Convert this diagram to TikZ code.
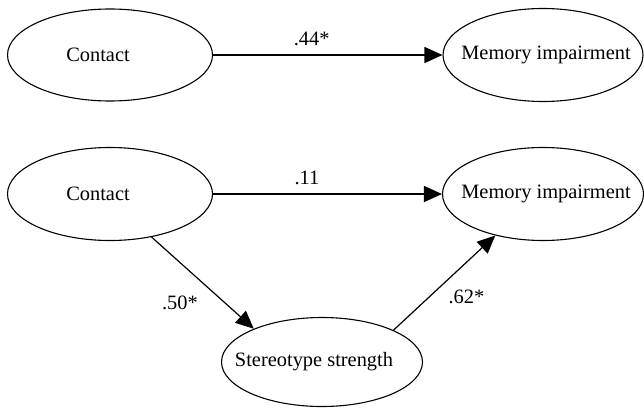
\documentclass[tikz,border=0pt]{standalone}
\usepackage{fontspec}
\setmainfont{Liberation Serif}
\usetikzlibrary{arrows.meta,shapes.geometric}
% zero-width label (optionally shifted sideways) so that the ellipse size
% is set by minimum width/height only
\newcommand\tightlabel[2][0pt]{\makebox[0pt]{\hspace*{#1}#2\hspace*{-#1}}}
\begin{document}
\begin{tikzpicture}[x=1pt,y=-1pt,
  var/.style={draw,line width=1.1pt,ellipse,inner sep=0pt,
    font=\fontsize{20.4}{24}\selectfont},
  path/.style={line width=1.2pt,-{Triangle[length=18pt,width=16pt]}},
  coef/.style={font=\fontsize{20.4}{24}\selectfont}]
\useasboundingbox (0,0) rectangle (644,409);
% total effect of contact
\node[var,minimum width=205pt,minimum height=92pt] (c1) at (110,55) {\tightlabel[-12pt]{Contact}};
\node[var,minimum width=200pt,minimum height=93pt] (m1) at (543,55) {\tightlabel[3pt]{Memory impairment}};
\draw[path] (c1) -- (m1) node[coef,pos=0.43,above=5pt] {.44*};
% mediation through stereotype strength
\node[var,minimum width=205pt,minimum height=93pt] (c2) at (110,194) {\tightlabel[-12pt]{Contact}};
\node[var,minimum width=201pt,minimum height=93pt] (m2) at (543,194) {\tightlabel[3pt]{Memory impairment}};
\node[var,minimum width=201pt,minimum height=89pt] (s) at (322,362) {\tightlabel[-8pt]{Stereotype strength}};
\draw[path] (c2) -- (m2) node[coef,pos=0.41,above=5pt] {.11};
\draw[path] (c2.-46) -- (s.154)
  node[coef,pos=0.6,xshift=-33pt,yshift=-11pt] {.50*};
\draw[path] (s.24) -- (m2.-139)
  node[coef,pos=0.5,xshift=22pt,yshift=-14pt] {.62*};
\end{tikzpicture}
\end{document}
